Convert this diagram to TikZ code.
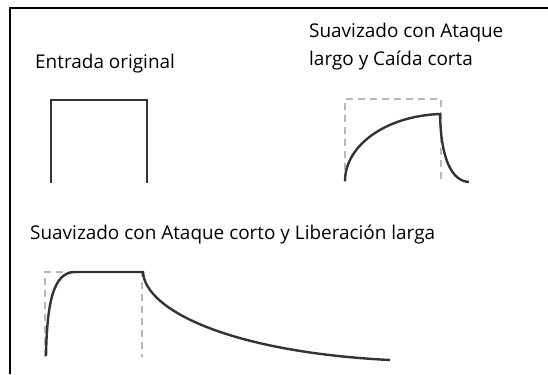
\documentclass[tikz,border=0pt]{standalone}
\usepackage{fontspec}
\setmainfont{Open Sans}
\usetikzlibrary{positioning}
\definecolor{Curve}{HTML}{333333}
\definecolor{Guide}{HTML}{B4B9BE}

\begin{document}
\begin{tikzpicture}[
  x=1bp, y=-1bp,
  label/.style={font=\fontsize{19}{28}\selectfont, inner sep=0pt, align=left},
  frame/.style={line width=2.4bp, draw=black},
  env/.style={line width=2.4bp, draw=Curve},
  guide/.style={line width=2.2bp, draw=Guide, dash pattern=on 7bp off 5bp}
]
\useasboundingbox (0,0) rectangle (548,374);

% frame
\coordinate (corner) at (10,8);
\coordinate (topend) at (548,8);
\coordinate (leftend) at (10,374);
\draw[frame] (topend) -- (corner) -- (leftend);

% labels
\node[label, anchor=west] (original) at (35,64) {Entrada original};
\node[label, anchor=west] (longatk) at (309,47) {Suavizado con Ataque\\largo y Caída corta};
\node[label, anchor=west] (shortatk) at (30,235) {Suavizado con Ataque corto y Liberación larga};

% original input
\draw[env] (51,183) -- (51,100) -- (147,100) -- (147,183);

% long attack, short decay
\draw[guide] (345,182) -- (345,99) -- (441,99) -- (441,182);
\draw[env] (345,181) .. controls (345,146) and (385,116) .. (440,114)
  .. controls (441,160) and (452,181) .. (469,182);

% short attack, long release
\draw[guide] (45,357) -- (45,272) -- (142,272) -- (142,357);
\draw[env] (46,356) .. controls (47,300) and (54,272) .. (75,272) -- (143,272)
  .. controls (145,310) and (230,352) .. (390,360);
\end{tikzpicture}
\end{document}
